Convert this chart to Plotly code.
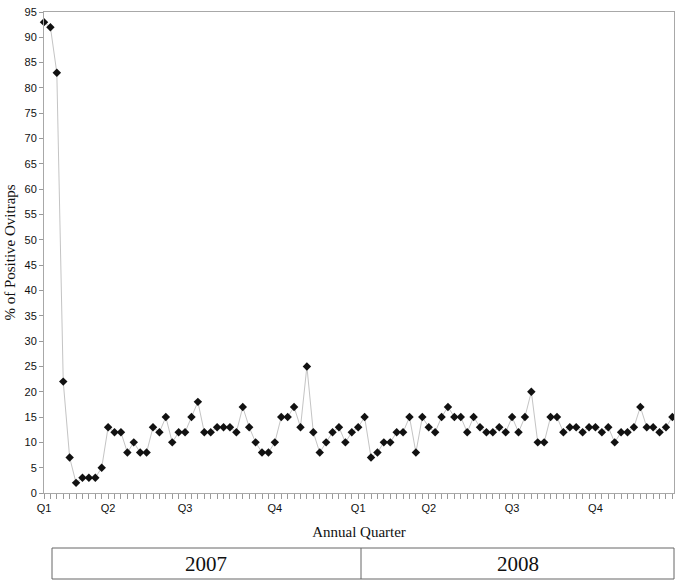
import plotly.graph_objects as go

# Weekly % of positive ovitraps, 2007-2008
values = [93, 92, 83, 22, 7, 2, 3, 3, 3, 5,
          13, 12, 12, 8, 10, 8, 8, 13, 12, 15,
          10, 12, 12, 15, 18, 12, 12, 13, 13, 13,
          12, 17, 13, 10, 8, 8, 10, 15, 15, 17,
          13, 25, 12, 8, 10, 12, 13, 10, 12, 13,
          15, 7, 8, 10, 10, 12, 12, 15, 8, 15,
          13, 12, 15, 17, 15, 15, 12, 15, 13, 12,
          12, 13, 12, 15, 12, 15, 20, 10, 10, 15,
          15, 12, 13, 13, 12, 13, 13, 12, 13, 10,
          12, 12, 13, 17, 13, 13, 12, 13, 15]
week_index = list(range(len(values)))

quarter_labels = ["Q1", "Q2", "Q3", "Q4", "Q1", "Q2", "Q3", "Q4"]
quarter_index = [0, 10, 22, 36, 49, 60, 73, 86]
year_labels = ["2007", "2008"]

tickvals = week_index
ticktext = []
for i in week_index:
    if i in quarter_index:
        ticktext.append(quarter_labels[quarter_index.index(i)])
    else:
        ticktext.append("")

fig = go.Figure()
fig.add_trace(go.Scatter(
    x=week_index, y=values, mode="lines+markers",
    line=dict(color="#c4c4c4", width=1),
    marker=dict(symbol="diamond", size=6.5, color="#111111"),
    cliponaxis=False, showlegend=False,
))

sans = "Liberation Sans, Arial, sans-serif"
serif = "Liberation Serif, Times New Roman, serif"

fig.update_layout(
    width=675, height=580,
    margin=dict(l=44, r=1, t=12, b=87),
    paper_bgcolor="white", plot_bgcolor="white",
    xaxis=dict(
        range=[0, 98.25], tickmode="array", tickvals=tickvals, ticktext=ticktext,
        ticks="outside", ticklen=5, tickwidth=1, tickcolor="#9a9a9a",
        showline=True, linecolor="#a8a8a8", linewidth=1, mirror=True,
        showgrid=False, zeroline=False,
        tickfont=dict(family=sans, size=11, color="#111111"),
        title=dict(text="Annual Quarter", font=dict(family=serif, size=15, color="#111111"), standoff=13),
        automargin=False,
    ),
    yaxis=dict(
        range=[0, 95], tickmode="linear", tick0=0, dtick=5,
        ticks="outside", ticklen=4, tickwidth=1, tickcolor="#9a9a9a",
        showline=True, linecolor="#a8a8a8", linewidth=1, mirror=True,
        showgrid=False, zeroline=False,
        tickfont=dict(family=sans, size=11, color="#111111"),
        title=dict(text="% of Positive Ovitraps", font=dict(family=serif, size=15, color="#111111"), standoff=5),
        automargin=False,
    ),
)

# Year box below the axis
plot_h = 580 - 12 - 87
plot_w = 675 - 44 - 1
def py(pix):
    return (580 - 87 - pix) / plot_h
def px(pix):
    return (pix - 44) / plot_w

box_top, box_bot = py(548), py(579)
box_l, box_mid, box_r = px(52), px(361), px(674)
fig.add_shape(type="rect", xref="paper", yref="paper", x0=box_l, x1=box_r, y0=box_bot, y1=box_top,
              line=dict(color="#666666", width=1))
fig.add_shape(type="line", xref="paper", yref="paper", x0=box_mid, x1=box_mid, y0=box_bot, y1=box_top,
              line=dict(color="#666666", width=1))
centers = [(box_l + box_mid) / 2, (box_mid + box_r) / 2]
for lbl, cx in zip(year_labels, centers):
    fig.add_annotation(text=lbl, xref="paper", yref="paper", x=cx, y=(box_top + box_bot) / 2,
                       showarrow=False, font=dict(family=serif, size=21, color="#111111"),
                       xanchor="center", yanchor="middle")

fig.write_html("out.html", config={"displayModeBar": False},
               post_script="document.body.style.margin='0';document.body.style.overflow='hidden';")
